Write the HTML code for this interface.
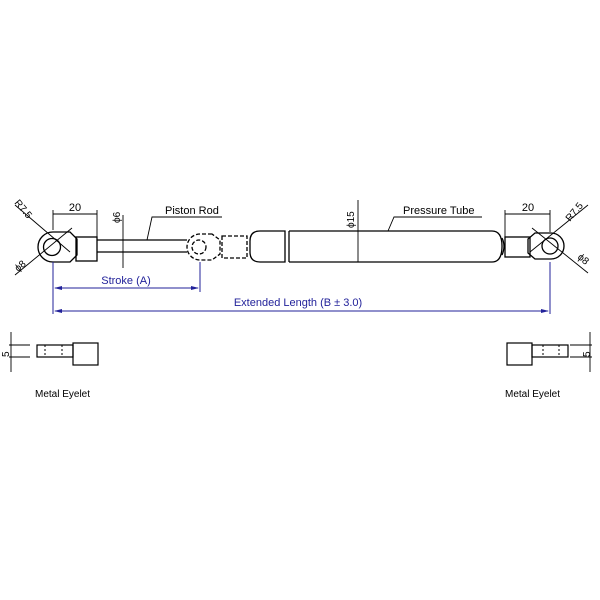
<!DOCTYPE html>
<html><head><style>body{margin:0;background:#fff}svg{display:block}text{font-family:"Liberation Sans",sans-serif}</style></head><body>
<svg width="600" height="600" viewBox="0 0 600 600" xmlns="http://www.w3.org/2000/svg">
<g fill="none" stroke="#000" stroke-width="1.3">
<path d="M70,232 L53,232 A15,15 0 0 0 53,262 L70,262 L77,255 L77,239 Z"/>
<circle cx="52" cy="247" r="8.5"/>
<rect x="76" y="237" width="21" height="24"/>
<path d="M97,240 L187,240 M97,252 L187,252"/>
<g stroke-dasharray="4,2">
<path d="M212,234 L200,234 A13,13 0 0 0 200,260 L212,260 L220,254 L220,240 Z"/>
<circle cx="199" cy="247" r="7"/>
<rect x="222" y="236" width="25" height="22"/>
</g>
<path d="M285,231 L260,231 Q250,231 250,241 L250,252 Q250,262 260,262 L285,262 Z"/>
<line x1="289" y1="231" x2="289" y2="262"/>
<path d="M289,231 L492,231 Q502,231 502,246 Q502,262 492,262 L289,262"/>
<path d="M502,238 Q506,246 502,255"/>
<rect x="505" y="237" width="25" height="20"/>
<path d="M535,233 L551,233 A13,13 0 0 1 551,259 L535,259 L528,253 L528,239 Z"/>
<circle cx="550" cy="246" r="8"/>
</g>
<g stroke="#000" stroke-width="0.9" fill="none">
<line x1="53" y1="230" x2="53" y2="210"/><line x1="97" y1="237" x2="97" y2="210"/><line x1="53" y1="214" x2="97" y2="214"/>
<line x1="123" y1="215" x2="123" y2="268"/>
<path d="M147,240 L152,217 L222,217"/>
<line x1="358" y1="200" x2="358" y2="262"/>
<path d="M388,231 L394,217 L482,217"/>
<line x1="505" y1="237" x2="505" y2="210"/><line x1="550" y1="232" x2="550" y2="210"/><line x1="505" y1="214" x2="550" y2="214"/>
<line x1="15" y1="205" x2="70" y2="252"/><line x1="15" y1="275" x2="72" y2="228"/>
<line x1="588" y1="205" x2="530" y2="252"/><line x1="588" y1="273" x2="532" y2="228"/>
<line x1="11" y1="332" x2="11" y2="372"/>
<line x1="9" y1="345" x2="30" y2="345"/><line x1="9" y1="357" x2="30" y2="357"/>
<line x1="590" y1="332" x2="590" y2="372"/>
<line x1="570" y1="345" x2="592" y2="345"/><line x1="570" y1="357" x2="592" y2="357"/>
</g>
<g stroke="#000" stroke-width="1.2" fill="none">
<rect x="37" y="345" width="36" height="12"/><rect x="73" y="343" width="25" height="22"/>
<rect x="507" y="343" width="25" height="22"/><rect x="532" y="345" width="36" height="12"/>
</g>
<g stroke="#000" stroke-width="1" stroke-dasharray="2,2">
<line x1="45" y1="345" x2="45" y2="357"/><line x1="62" y1="345" x2="62" y2="357"/>
<line x1="543" y1="345" x2="543" y2="357"/><line x1="559" y1="345" x2="559" y2="357"/>
</g>
<g stroke="#22229a" stroke-width="1" fill="none">
<line x1="53" y1="262" x2="53" y2="314"/><line x1="200" y1="262" x2="200" y2="292"/>
<line x1="550" y1="262" x2="550" y2="314"/>
<line x1="55" y1="288" x2="198" y2="288"/><line x1="55" y1="311" x2="548" y2="311"/>
</g>
<g fill="#22229a"><path d="M54,288 l8,-2 v4z"/><path d="M199,288 l-8,-2 v4z"/><path d="M54,311 l8,-2 v4z"/><path d="M549,311 l-8,-2 v4z"/></g>
<g font-size="11" fill="#000">
<text x="75" y="211" text-anchor="middle">20</text>
<text x="528" y="211" text-anchor="middle">20</text>
<text x="165" y="214">Piston Rod</text>
<text x="403" y="214">Pressure Tube</text>
<text x="120" y="223" transform="rotate(-90 120 223)" font-size="10">ϕ6</text>
<text x="354" y="228" transform="rotate(-90 354 228)" font-size="10">ϕ15</text>
<text x="14" y="203" transform="rotate(50 14 203)" font-size="10">R7.5</text>
<text x="18" y="272" transform="rotate(-40 18 272)" font-size="10">ϕ8</text>
<text x="570" y="222" transform="rotate(-50 570 222)" font-size="10">R7.5</text>
<text x="577" y="258" transform="rotate(40 577 258)" font-size="10">ϕ8</text>
<text x="9" y="357" transform="rotate(-90 9 357)" font-size="10">5</text>
<text x="590" y="357" transform="rotate(-90 590 357)" font-size="10">5</text>
<text x="35" y="397" font-size="10">Metal Eyelet</text>
<text x="505" y="397" font-size="10">Metal Eyelet</text>
</g>
<g font-size="11" fill="#22229a">
<text x="126" y="284" text-anchor="middle">Stroke (A)</text>
<text x="298" y="306" text-anchor="middle">Extended Length (B ± 3.0)</text>
</g>
</svg>
</body></html>
